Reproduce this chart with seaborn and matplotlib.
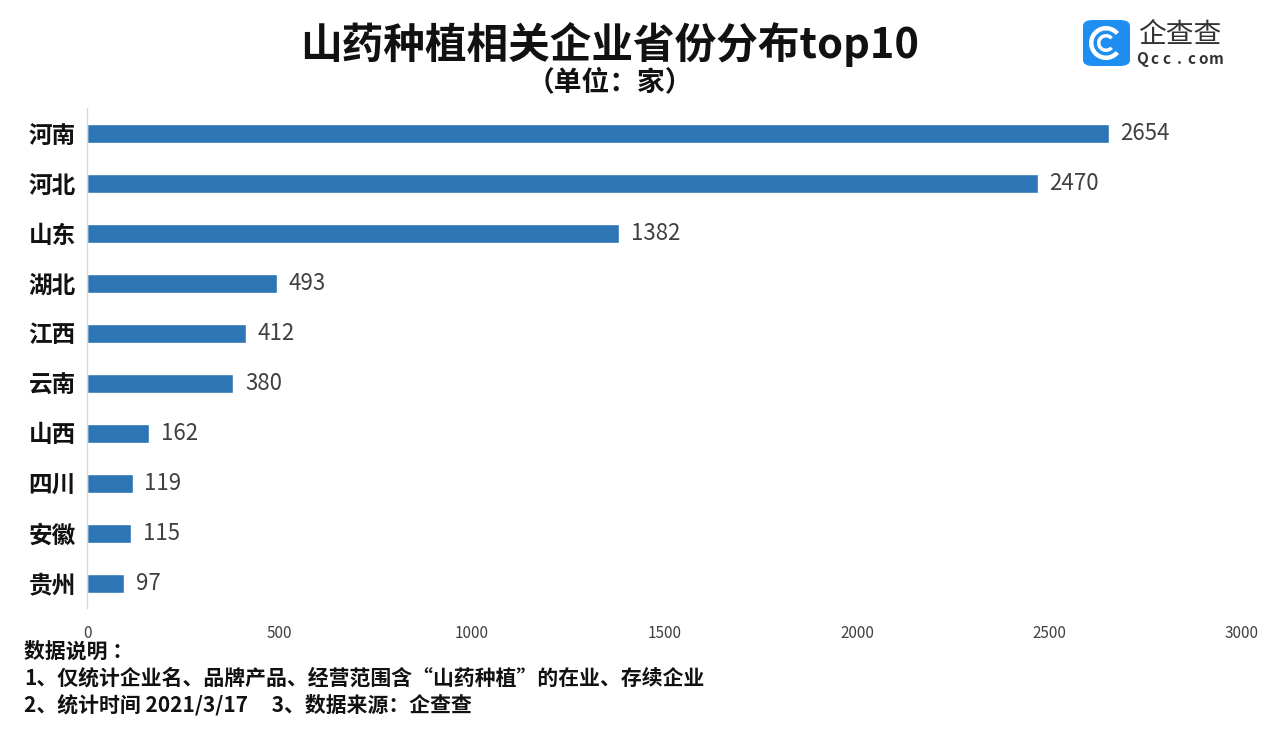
import matplotlib
matplotlib.use("Agg")
import matplotlib.pyplot as plt
import seaborn as sns
import pandas as pd
from matplotlib.patches import FancyBboxPatch, Wedge
from matplotlib.transforms import IdentityTransform

provinces = ["河南", "河北", "山东", "湖北", "江西", "云南", "山西", "四川", "安徽", "贵州"]
counts = [2654, 2470, 1382, 493, 412, 380, 162, 119, 115, 97]
x_ticks = [0, 500, 1000, 1500, 2000, 2500, 3000]

sns.set_style("white")
plt.rcParams['font.family'] = ['Noto Sans CJK SC', 'DejaVu Sans']

df = pd.DataFrame({"province": provinces, "count": counts})

fig = plt.figure(figsize=(12.68, 7.32), dpi=100)
ax = fig.add_axes([87 / 1268, 1 - 608 / 732, (1242 - 87) / 1268, 500 / 732])

sns.barplot(data=df, x="count", y="province", color="#2E75B6", saturation=1,
            width=0.38, ax=ax)

ax.set_xlim(0, 3000)
ax.set_ylim(9.5, -0.5)
ax.set_xticks(x_ticks)
ax.set_xticklabels([str(t) for t in x_ticks], fontsize=11, color="#404040")
ax.tick_params(axis="x", length=0, pad=12)
ax.tick_params(axis="y", length=0, pad=8)
for lbl in ax.get_yticklabels():
    lbl.set_fontsize(17)
    lbl.set_fontweight("bold")
    lbl.set_color("#111111")
ax.set_xlabel("")
ax.set_ylabel("")
for s in ["top", "right", "bottom"]:
    ax.spines[s].set_visible(False)
ax.spines["left"].set_color("#d9d9d9")
ax.spines["left"].set_linewidth(1)

# value labels next to the bars
for i, v in enumerate(counts):
    ax.text(v + 30, i, str(v), va="center", ha="left", fontsize=16, color="#404040")

# titles
fig.text(0.481, 1 - 44 / 732, "山药种植相关企业省份分布top10", ha="center", va="center",
         fontsize=30, fontweight="bold", color="#111111")
fig.text(0.481, 1 - 82 / 732, "（单位：家）", ha="center", va="center",
         fontsize=20, fontweight="bold", color="#111111")

# footnotes
notes = ["数据说明 ：",
         "1、仅统计企业名、品牌产品、经营范围含“山药种植”的在业、存续企业",
         "2、统计时间 2021/3/17     3、数据来源：企查查"]
for k, n in enumerate(notes):
    fig.text(24 / 1268, 1 - (651 + 27 * k) / 732, n, ha="left", va="center",
             fontsize=15, fontweight="bold", color="#111111")

# logo
lx, ly, lw, lh = 1083 / 1268, 1 - 66 / 732, 47 / 1268, 46 / 732
logo = FancyBboxPatch((lx, ly), lw, lh, boxstyle="round,pad=0,rounding_size=0.008",
                      transform=fig.transFigure, facecolor="#1E8FF0", edgecolor="none")
fig.patches.append(logo)
cx, cy = 1106, 732 - 43
for r, w in [(17, 4.5), (9, 3.5)]:
    wd = Wedge((cx, cy), r, 40, 320, width=w, facecolor="white", edgecolor="none")
    wd.set_transform(IdentityTransform())
    fig.patches.append(wd)
fig.text(1180 / 1268, 1 - 35 / 732, "企查查", ha="center", va="center",
         fontsize=20, color="#333333")
for j, ch in enumerate("Qcc.com"):
    fig.text((1142 + j * 12.3) / 1268, 1 - 59 / 732, ch, ha="center", va="center",
             fontsize=11, color="#333333", fontweight="bold")

fig.savefig("out.png", dpi=100)
